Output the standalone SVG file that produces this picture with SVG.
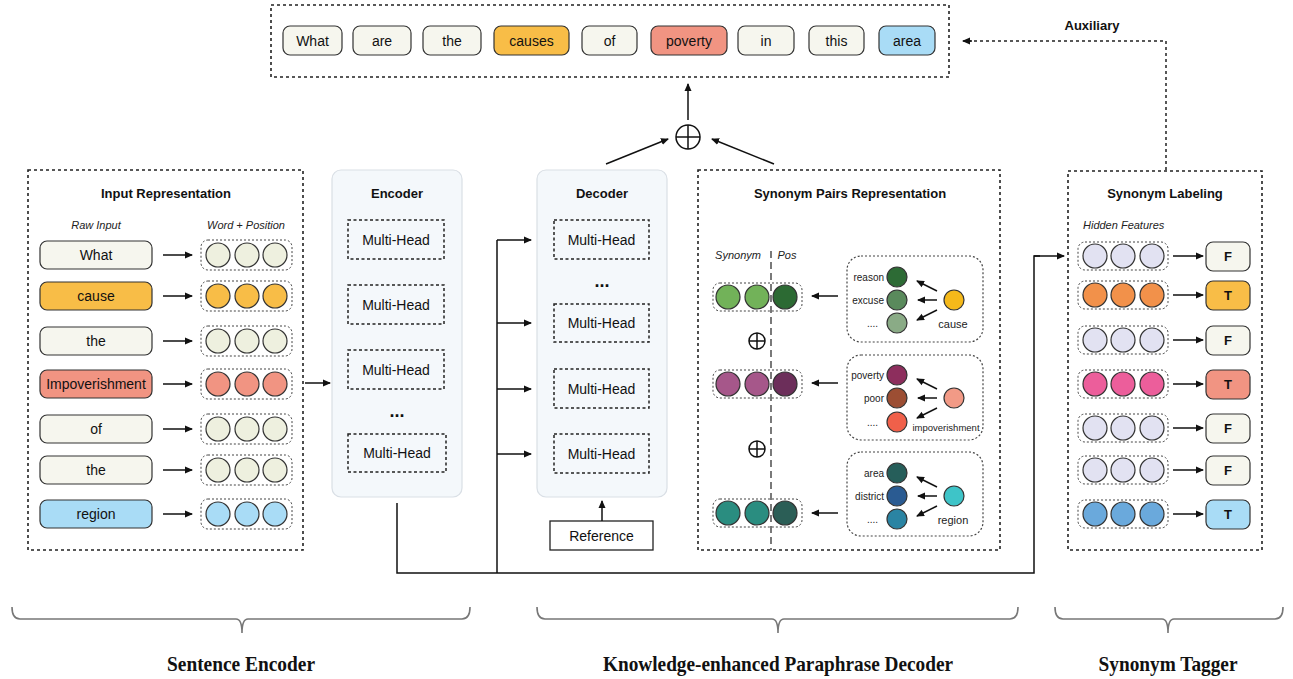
<svg xmlns="http://www.w3.org/2000/svg" width="1293" height="679" viewBox="0 0 1293 679">
<defs>
<marker id="ah" markerUnits="userSpaceOnUse" markerWidth="8" markerHeight="8" refX="7" refY="4" orient="auto"><path d="M0,0.5 L8,4 L0,7.5 z" fill="#111"/></marker>
<style>
.outer{fill:none;stroke:#222;stroke-width:1.6;stroke-dasharray:3 3}
.grp{fill:#fff;stroke:#444;stroke-width:1;stroke-dasharray:2 2}
.word{stroke:#333;stroke-width:1.2}
.cream{fill:#f6f6ee}.org{fill:#f8bd47}.sal{fill:#f19482}.blu{fill:#a9dcf6}
.cir{stroke:#333;stroke-width:1.2}
.t{font-family:"Liberation Sans",Arial,sans-serif;font-size:14px;fill:#111;text-anchor:middle}
.title{font-family:"Liberation Sans",Arial,sans-serif;font-size:13px;font-weight:bold;fill:#111;text-anchor:middle}
.it{font-family:"Liberation Sans",Arial,sans-serif;font-size:11px;font-style:italic;fill:#222}
.sm{font-family:"Liberation Sans",Arial,sans-serif;font-size:10px;fill:#222}
.blk{font-family:"Liberation Sans",Arial,sans-serif;font-size:13px;font-weight:bold;fill:#111;text-anchor:middle}
.mh{fill:none;stroke:#222;stroke-width:1.5;stroke-dasharray:3 2.5}
.panel{fill:#f4f8fb;stroke:#d9dfe5;stroke-width:1.2}
.ln{fill:none;stroke:#111;stroke-width:1.5}
.arr{fill:none;stroke:#111;stroke-width:1.5;marker-end:url(#ah)}
.sub{fill:none;stroke:#444;stroke-width:1.2;stroke-dasharray:2 2}
.brace{fill:none;stroke:#777;stroke-width:1.6}
.bt{font-family:"Liberation Serif","Times New Roman",serif;font-size:21px;font-weight:bold;fill:#111;text-anchor:middle}
.plus{fill:none;stroke:#111;stroke-width:1.5}
</style>
</defs>
<rect width="1293" height="679" fill="#fff"/>

<!-- Top output sentence -->
<g id="output">
<rect class="outer" x="271" y="5" width="678" height="72"/>
<rect class="word cream" x="283" y="26" width="59" height="29" rx="7"/><text class="t" x="312.5" y="46">What</text>
<rect class="word cream" x="353" y="26" width="58" height="29" rx="7"/><text class="t" x="382" y="46">are</text>
<rect class="word cream" x="423" y="26" width="58" height="29" rx="7"/><text class="t" x="452" y="46">the</text>
<rect class="word org" x="494" y="26" width="75" height="29" rx="7"/><text class="t" x="531.5" y="46">causes</text>
<rect class="word cream" x="582" y="26" width="55" height="29" rx="7"/><text class="t" x="609.5" y="46">of</text>
<rect class="word sal" x="651" y="26" width="76" height="29" rx="7"/><text class="t" x="689" y="46">poverty</text>
<rect class="word cream" x="738" y="26" width="56" height="29" rx="7"/><text class="t" x="766" y="46">in</text>
<rect class="word cream" x="809" y="26" width="55" height="29" rx="7"/><text class="t" x="836.5" y="46">this</text>
<rect class="word blu" x="879" y="26" width="56" height="29" rx="7"/><text class="t" x="907" y="46">area</text>
</g>

<g id="aux-label"><text class="blk" x="1092" y="30">Auxiliary</text></g>

<g id="sum-top">
<circle class="plus" cx="688" cy="137" r="12"/>
<line class="plus" x1="676" y1="137" x2="700" y2="137"/>
<line class="plus" x1="688" y1="125" x2="688" y2="149"/>
</g>

<!-- Input Representation -->
<g id="input-representation">
<rect class="outer" x="28" y="170" width="275" height="380"/>
<text class="title" x="166" y="198">Input Representation</text>
<text class="it" x="96" y="229" text-anchor="middle">Raw Input</text>
<text class="it" x="246" y="229" text-anchor="middle">Word + Position</text>
<g>
<rect class="word cream" x="40" y="241" width="112" height="28" rx="7"/><text class="t" x="96" y="260">What</text>
<rect class="word org" x="40" y="282" width="112" height="28" rx="7"/><text class="t" x="96" y="301">cause</text>
<rect class="word cream" x="40" y="327" width="112" height="28" rx="7"/><text class="t" x="96" y="346">the</text>
<rect class="word sal" x="40" y="370" width="112" height="28" rx="7"/><text class="t" x="96" y="389">Impoverishment</text>
<rect class="word cream" x="40" y="415" width="112" height="28" rx="7"/><text class="t" x="96" y="434">of</text>
<rect class="word cream" x="40" y="456" width="112" height="28" rx="7"/><text class="t" x="96" y="475">the</text>
<rect class="word blu" x="40" y="500" width="112" height="28" rx="7"/><text class="t" x="96" y="519">region</text>
</g>
<g>
<rect class="grp" x="201" y="240" width="91" height="30" rx="7"/>
<circle class="cir" cx="218" cy="255" r="12" fill="#eef0df"/><circle class="cir" cx="247" cy="255" r="12" fill="#eef0df"/><circle class="cir" cx="275" cy="255" r="12" fill="#eef0df"/>
<rect class="grp" x="201" y="281" width="91" height="30" rx="7"/>
<circle class="cir" cx="218" cy="296" r="12" fill="#f8bd47"/><circle class="cir" cx="247" cy="296" r="12" fill="#f8bd47"/><circle class="cir" cx="275" cy="296" r="12" fill="#f8bd47"/>
<rect class="grp" x="201" y="326" width="91" height="30" rx="7"/>
<circle class="cir" cx="218" cy="341" r="12" fill="#eef0df"/><circle class="cir" cx="247" cy="341" r="12" fill="#eef0df"/><circle class="cir" cx="275" cy="341" r="12" fill="#eef0df"/>
<rect class="grp" x="201" y="369" width="91" height="30" rx="7"/>
<circle class="cir" cx="218" cy="384" r="12" fill="#f19482"/><circle class="cir" cx="247" cy="384" r="12" fill="#f19482"/><circle class="cir" cx="275" cy="384" r="12" fill="#f19482"/>
<rect class="grp" x="201" y="414" width="91" height="30" rx="7"/>
<circle class="cir" cx="218" cy="429" r="12" fill="#eef0df"/><circle class="cir" cx="247" cy="429" r="12" fill="#eef0df"/><circle class="cir" cx="275" cy="429" r="12" fill="#eef0df"/>
<rect class="grp" x="201" y="455" width="91" height="30" rx="7"/>
<circle class="cir" cx="218" cy="470" r="12" fill="#eef0df"/><circle class="cir" cx="247" cy="470" r="12" fill="#eef0df"/><circle class="cir" cx="275" cy="470" r="12" fill="#eef0df"/>
<rect class="grp" x="201" y="499" width="91" height="30" rx="7"/>
<circle class="cir" cx="218" cy="514" r="12" fill="#a9dcf6"/><circle class="cir" cx="247" cy="514" r="12" fill="#a9dcf6"/><circle class="cir" cx="275" cy="514" r="12" fill="#a9dcf6"/>
</g>
</g>

<!-- Encoder -->
<g id="encoder">
<rect class="panel" x="332" y="170" width="130" height="327" rx="9"/>
<text class="title" x="397" y="198">Encoder</text>
<rect class="mh" x="348" y="220" width="96" height="39"/><text class="t" x="396" y="245">Multi-Head</text>
<rect class="mh" x="348" y="285" width="96" height="39"/><text class="t" x="396" y="310">Multi-Head</text>
<rect class="mh" x="348" y="350" width="96" height="39"/><text class="t" x="396" y="375">Multi-Head</text>
<text class="title" x="397" y="417" style="font-size:18px">...</text>
<rect class="mh" x="348" y="434" width="98" height="38"/><text class="t" x="397" y="458">Multi-Head</text>
</g>

<!-- Decoder -->
<g id="decoder">
<rect class="panel" x="537" y="170" width="130" height="327" rx="9"/>
<text class="title" x="602" y="198">Decoder</text>
<rect class="mh" x="554" y="220" width="95" height="39"/><text class="t" x="601.5" y="245">Multi-Head</text>
<text class="title" x="602" y="287" style="font-size:18px">...</text>
<rect class="mh" x="554" y="304" width="95" height="38"/><text class="t" x="601.5" y="328">Multi-Head</text>
<rect class="mh" x="554" y="369" width="95" height="39"/><text class="t" x="601.5" y="394">Multi-Head</text>
<rect class="mh" x="554" y="434" width="95" height="39"/><text class="t" x="601.5" y="459">Multi-Head</text>
</g>

<g id="reference">
<rect x="550" y="521" width="103" height="29" fill="#fff" stroke="#222" stroke-width="1.3"/>
<text class="t" x="601.5" y="541">Reference</text>
</g>

<!-- Synonym Pairs Representation -->
<g id="synonym-pairs">
<rect class="outer" x="698" y="170" width="302" height="380"/>
<text class="title" x="850" y="198">Synonym Pairs Representation</text>
<text class="it" x="738" y="259" text-anchor="middle">Synonym</text>
<text class="it" x="787" y="259" text-anchor="middle">Pos</text>
<g>
<rect class="grp" x="713" y="283" width="89" height="28" rx="7"/>
<circle class="cir" cx="728" cy="297" r="12" fill="#72b259"/><circle class="cir" cx="757" cy="297" r="12" fill="#72b259"/><circle class="cir" cx="785" cy="297" r="12" fill="#2c6a33"/>
<rect class="grp" x="713" y="370" width="89" height="28" rx="7"/>
<circle class="cir" cx="728" cy="384" r="12" fill="#a6578a"/><circle class="cir" cx="757" cy="384" r="12" fill="#a6578a"/><circle class="cir" cx="785" cy="384" r="12" fill="#6c2e5a"/>
<rect class="grp" x="713" y="499" width="89" height="28" rx="7"/>
<circle class="cir" cx="728" cy="513" r="12" fill="#2a8d80"/><circle class="cir" cx="757" cy="513" r="12" fill="#2a8d80"/><circle class="cir" cx="785" cy="513" r="12" fill="#2b5e56"/>
</g>
<line x1="771" y1="251" x2="771" y2="550" stroke="#222" stroke-width="1.2" stroke-dasharray="7 4"/>
<g>
<circle class="plus" cx="757" cy="341" r="8"/><line class="plus" x1="749" y1="341" x2="765" y2="341"/><line class="plus" x1="757" y1="333" x2="757" y2="349"/>
<circle class="plus" cx="757" cy="449" r="8"/><line class="plus" x1="749" y1="449" x2="765" y2="449"/><line class="plus" x1="757" y1="441" x2="757" y2="457"/>
</g>
<g>
<rect class="sub" x="847" y="256" width="136" height="86" rx="14"/>
<text class="sm" x="884" y="281" text-anchor="end">reason</text>
<text class="sm" x="884" y="304" text-anchor="end">excuse</text>
<text class="sm" x="878" y="327" text-anchor="end">....</text>
<circle class="cir" cx="897" cy="277" r="10" fill="#2d6b35"/>
<circle class="cir" cx="897" cy="300" r="10" fill="#5a8a5c"/>
<circle class="cir" cx="897" cy="323" r="10" fill="#8aab86"/>
<circle class="cir" cx="954" cy="300" r="10" fill="#f5b91a"/>
<text class="sm" x="953" y="328" text-anchor="middle" style="font-size:11px">cause</text>
</g>
<g>
<rect class="sub" x="847" y="355" width="136" height="85" rx="14"/>
<text class="sm" x="884" y="379" text-anchor="end">poverty</text>
<text class="sm" x="884" y="402" text-anchor="end">poor</text>
<text class="sm" x="878" y="426" text-anchor="end">....</text>
<circle class="cir" cx="897" cy="375" r="10" fill="#8d2e5d"/>
<circle class="cir" cx="897" cy="398" r="10" fill="#9c4e33"/>
<circle class="cir" cx="897" cy="422" r="10" fill="#f0604a"/>
<circle class="cir" cx="954" cy="398" r="10" fill="#f29a86"/>
<text class="sm" x="946" y="431" text-anchor="middle" style="font-size:9.5px">impoverishment</text>
</g>
<g>
<rect class="sub" x="847" y="452" width="136" height="84" rx="14"/>
<text class="sm" x="884" y="477" text-anchor="end">area</text>
<text class="sm" x="884" y="500" text-anchor="end">district</text>
<text class="sm" x="878" y="523" text-anchor="end">....</text>
<circle class="cir" cx="897" cy="473" r="10" fill="#265e5a"/>
<circle class="cir" cx="897" cy="496" r="10" fill="#2a5b92"/>
<circle class="cir" cx="897" cy="519" r="10" fill="#2a84a3"/>
<circle class="cir" cx="954" cy="496" r="10" fill="#3ec4c8"/>
<text class="sm" x="953" y="524" text-anchor="middle" style="font-size:11px">region</text>
</g>
</g>

<!-- Synonym Labeling -->
<g id="synonym-labeling">
<rect class="outer" x="1068" y="171" width="194" height="379"/>
<text class="title" x="1165" y="198">Synonym Labeling</text>
<text class="it" x="1083" y="229">Hidden Features</text>
<g>
<rect class="grp" x="1078" y="242" width="90" height="28" rx="7"/>
<circle class="cir" cx="1095" cy="256" r="12" fill="#e2e2f2"/><circle class="cir" cx="1123" cy="256" r="12" fill="#e2e2f2"/><circle class="cir" cx="1152" cy="256" r="12" fill="#e2e2f2"/>
<rect class="grp" x="1078" y="281" width="90" height="28" rx="7"/>
<circle class="cir" cx="1095" cy="295" r="12" fill="#f2914a"/><circle class="cir" cx="1123" cy="295" r="12" fill="#f2914a"/><circle class="cir" cx="1152" cy="295" r="12" fill="#f2914a"/>
<rect class="grp" x="1078" y="326" width="90" height="28" rx="7"/>
<circle class="cir" cx="1095" cy="340" r="12" fill="#e2e2f2"/><circle class="cir" cx="1123" cy="340" r="12" fill="#e2e2f2"/><circle class="cir" cx="1152" cy="340" r="12" fill="#e2e2f2"/>
<rect class="grp" x="1078" y="370" width="90" height="28" rx="7"/>
<circle class="cir" cx="1095" cy="384" r="12" fill="#ec5e9b"/><circle class="cir" cx="1123" cy="384" r="12" fill="#ec5e9b"/><circle class="cir" cx="1152" cy="384" r="12" fill="#ec5e9b"/>
<rect class="grp" x="1078" y="414" width="90" height="28" rx="7"/>
<circle class="cir" cx="1095" cy="428" r="12" fill="#e2e2f2"/><circle class="cir" cx="1123" cy="428" r="12" fill="#e2e2f2"/><circle class="cir" cx="1152" cy="428" r="12" fill="#e2e2f2"/>
<rect class="grp" x="1078" y="456" width="90" height="28" rx="7"/>
<circle class="cir" cx="1095" cy="470" r="12" fill="#e2e2f2"/><circle class="cir" cx="1123" cy="470" r="12" fill="#e2e2f2"/><circle class="cir" cx="1152" cy="470" r="12" fill="#e2e2f2"/>
<rect class="grp" x="1078" y="500" width="90" height="28" rx="7"/>
<circle class="cir" cx="1095" cy="514" r="12" fill="#6aa9dc"/><circle class="cir" cx="1123" cy="514" r="12" fill="#6aa9dc"/><circle class="cir" cx="1152" cy="514" r="12" fill="#6aa9dc"/>
</g>
<g>
<rect class="word cream" x="1206" y="242" width="44" height="29" rx="7"/><text class="blk" x="1228" y="261">F</text>
<rect class="word org" x="1206" y="281" width="44" height="29" rx="7"/><text class="blk" x="1228" y="300">T</text>
<rect class="word cream" x="1206" y="326" width="44" height="29" rx="7"/><text class="blk" x="1228" y="345">F</text>
<rect class="word sal" x="1206" y="370" width="44" height="29" rx="7"/><text class="blk" x="1228" y="389">T</text>
<rect class="word cream" x="1206" y="414" width="44" height="29" rx="7"/><text class="blk" x="1228" y="433">F</text>
<rect class="word cream" x="1206" y="456" width="44" height="29" rx="7"/><text class="blk" x="1228" y="475">F</text>
<rect class="word blu" x="1206" y="500" width="44" height="29" rx="7"/><text class="blk" x="1228" y="519">T</text>
</g>
</g>

<!-- Connectors -->
<g id="connectors">
<g>
<line class="arr" x1="163" y1="255" x2="192" y2="255"/>
<line class="arr" x1="163" y1="296" x2="192" y2="296"/>
<line class="arr" x1="163" y1="341" x2="192" y2="341"/>
<line class="arr" x1="163" y1="384" x2="192" y2="384"/>
<line class="arr" x1="163" y1="429" x2="192" y2="429"/>
<line class="arr" x1="163" y1="470" x2="192" y2="470"/>
<line class="arr" x1="163" y1="514" x2="192" y2="514"/>
<line class="arr" x1="1173" y1="256" x2="1203" y2="256"/>
<line class="arr" x1="1173" y1="295" x2="1203" y2="295"/>
<line class="arr" x1="1173" y1="340" x2="1203" y2="340"/>
<line class="arr" x1="1173" y1="384" x2="1203" y2="384"/>
<line class="arr" x1="1173" y1="428" x2="1203" y2="428"/>
<line class="arr" x1="1173" y1="470" x2="1203" y2="470"/>
<line class="arr" x1="1173" y1="514" x2="1203" y2="514"/>
</g>
<line class="arr" x1="305" y1="383" x2="330" y2="383"/>
<polyline class="ln" points="397,503 397,573 1034,573 1034,256 1040,256"/>
<line class="arr" x1="1034" y1="256" x2="1064" y2="256"/>
<line class="ln" x1="497" y1="240" x2="497" y2="573"/>
<line class="arr" x1="497" y1="240" x2="531" y2="240"/>
<line class="arr" x1="497" y1="323" x2="531" y2="323"/>
<line class="arr" x1="497" y1="389" x2="531" y2="389"/>
<line class="arr" x1="497" y1="454" x2="531" y2="454"/>
<line class="arr" x1="602" y1="521" x2="602" y2="501"/>
<line class="arr" x1="606" y1="164" x2="668" y2="139"/>
<line class="arr" x1="774" y1="164" x2="712" y2="139"/>
<line class="arr" x1="688" y1="120" x2="688" y2="84"/>
<line class="arr" x1="838" y1="296" x2="812" y2="296"/>
<line class="arr" x1="838" y1="383" x2="812" y2="383"/>
<line class="arr" x1="838" y1="513" x2="812" y2="513"/>
<line class="arr" x1="937" y1="291" x2="917" y2="281"/>
<line class="arr" x1="937" y1="300" x2="918" y2="300"/>
<line class="arr" x1="937" y1="310" x2="917" y2="320"/>
<line class="arr" x1="937" y1="389" x2="917" y2="379"/>
<line class="arr" x1="937" y1="398" x2="918" y2="398"/>
<line class="arr" x1="937" y1="408" x2="917" y2="418"/>
<line class="arr" x1="937" y1="487" x2="917" y2="477"/>
<line class="arr" x1="937" y1="496" x2="918" y2="496"/>
<line class="arr" x1="937" y1="506" x2="917" y2="516"/>
<polyline points="1166,170 1166,41 970,41" fill="none" stroke="#222" stroke-width="1.5" stroke-dasharray="3 3"/>
<line class="arr" x1="972" y1="41" x2="963" y2="41"/>
</g>

<!-- Bottom braces -->
<g id="brace-sentence-encoder">
<path class="brace" d="M12,607 Q12,619 20,619 L236,619 Q242,619 242,633 Q242,619 248,619 L462,619 Q470,619 470,607"/>
<text class="bt" x="241" y="671" textLength="148" lengthAdjust="spacingAndGlyphs">Sentence Encoder</text>
</g>
<g id="brace-decoder">
<path class="brace" d="M537,607 Q537,619 545,619 L772,619 Q778,619 778,633 Q778,619 784,619 L1010,619 Q1018,619 1018,607"/>
<text class="bt" x="778" y="671" textLength="350" lengthAdjust="spacingAndGlyphs">Knowledge-enhanced Paraphrase Decoder</text>
</g>
<g id="brace-tagger">
<path class="brace" d="M1055,607 Q1055,619 1063,619 L1162,619 Q1168,619 1168,633 Q1168,619 1174,619 L1275,619 Q1283,619 1283,607"/>
<text class="bt" x="1168" y="671" textLength="139" lengthAdjust="spacingAndGlyphs">Synonym Tagger</text>
</g>
</svg>
